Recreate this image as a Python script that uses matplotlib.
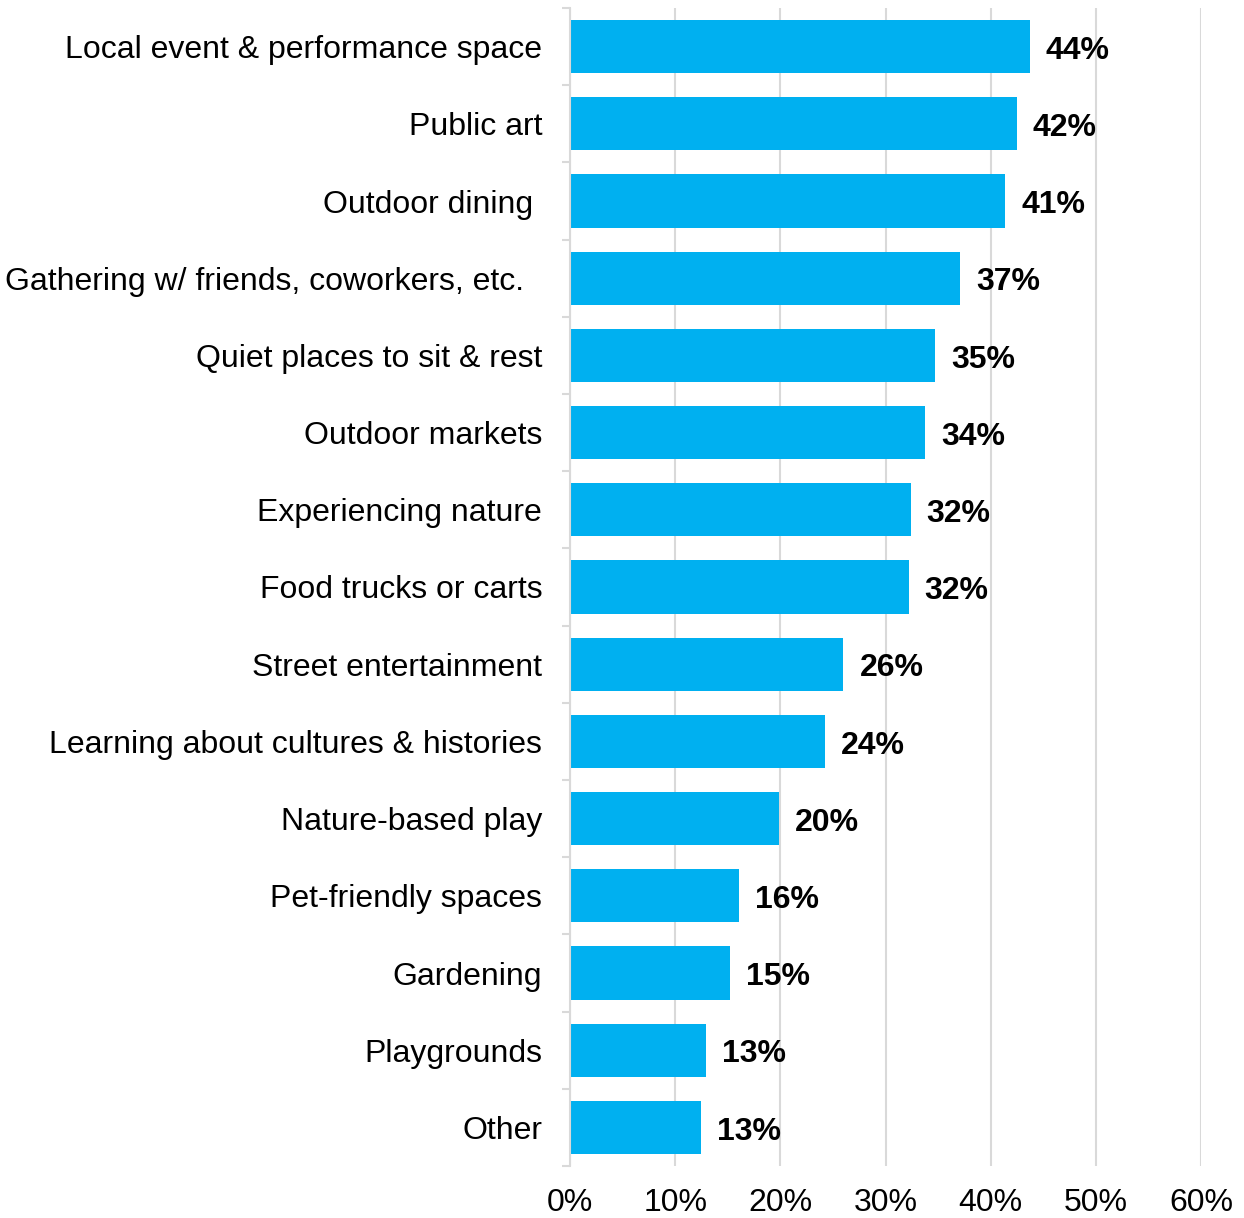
import matplotlib
matplotlib.use("Agg")
import matplotlib.pyplot as plt
from matplotlib.ticker import FixedLocator

categories = [
    "Local event & performance space",
    "Public art",
    "Outdoor dining ",
    "Gathering w/ friends, coworkers, etc.  ",
    "Quiet places to sit & rest",
    "Outdoor markets",
    "Experiencing nature",
    "Food trucks or carts",
    "Street entertainment",
    "Learning about cultures & histories",
    "Nature-based play",
    "Pet-friendly spaces",
    "Gardening",
    "Playgrounds",
    "Other",
]
values = [43.7, 42.5, 41.4, 37.1, 34.7, 33.8, 32.4, 32.2, 26.0, 24.2, 19.9, 16.1, 15.2, 12.9, 12.5]
value_labels = ["44%", "42%", "41%", "37%", "35%", "34%", "32%", "32%", "26%", "24%", "20%", "16%", "15%", "13%", "13%"]
xticks = [0, 10, 20, 30, 40, 50, 60]
xtick_labels = ["0%", "10%", "20%", "30%", "40%", "50%", "60%"]

plt.rcParams['font.family'] = ['Liberation Sans', 'DejaVu Sans']

fig = plt.figure(figsize=(12.44, 12.18), dpi=100)
ax = fig.add_axes([570/1244, 1 - 1166/1218, (1201-570)/1244, (1166-8)/1218])

n = len(categories)
ypos = list(range(n))
ax.barh(ypos, values, height=0.69, color="#00B0F0", zorder=3)
for y, v, lab in zip(ypos, values, value_labels):
    ax.annotate(lab, (v, y), xytext=(11.5, -3.0), textcoords="offset points",
                ha="left", va="center", fontsize=23, fontweight="bold", color="black", zorder=4)

ax.set_xlim(0, 60)
ax.set_ylim(n - 0.5, -0.5)
ax.set_yticks(ypos)
ax.set_yticklabels(categories, fontsize=23)
ax.yaxis.set_minor_locator(FixedLocator([i - 0.5 for i in range(n + 1)]))
ax.tick_params(axis="y", which="major", length=0, pad=20)
ax.tick_params(axis="y", which="minor", length=6, width=1.5, color="#d9d9d9")
ax.set_xticks(xticks)
ax.set_xticklabels(xtick_labels, fontsize=23)
ax.tick_params(axis="x", length=0, pad=16)

ax.grid(axis="x", color="#d9d9d9", linewidth=1.5, zorder=0)
for s in ["top", "right", "bottom"]:
    ax.spines[s].set_visible(False)
ax.spines["left"].set_color("#d9d9d9")
ax.spines["left"].set_linewidth(1.5)
ax.spines["left"].set_zorder(5)

fig.savefig("out.png", dpi=100)
